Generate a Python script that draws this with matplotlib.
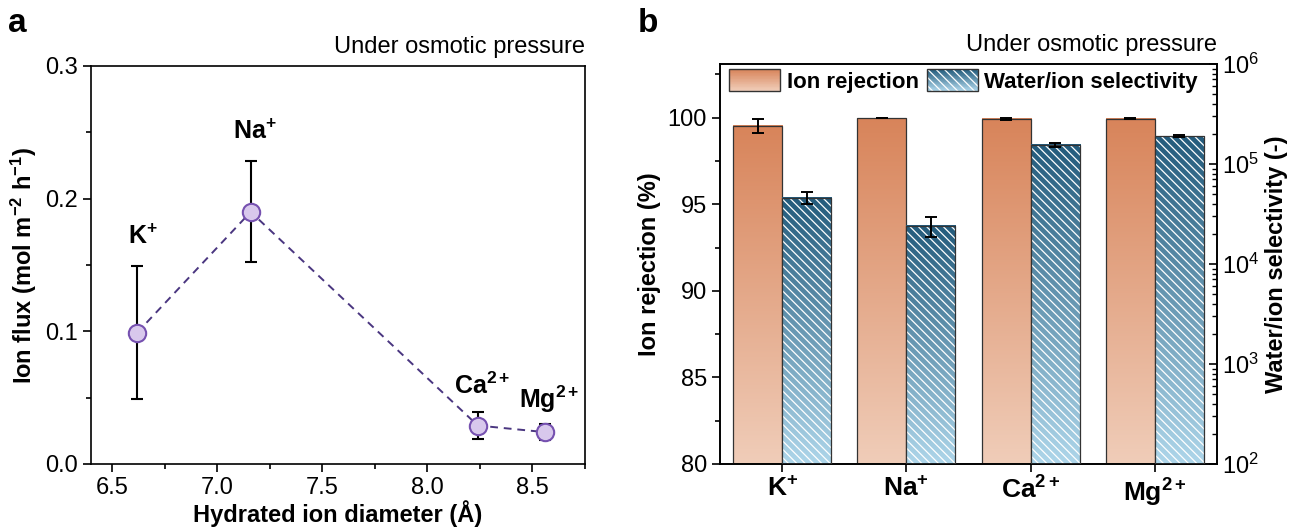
import numpy as np
import matplotlib
matplotlib.use("Agg")
import matplotlib.pyplot as plt
import matplotlib.ticker as mticker
from matplotlib.colors import LinearSegmentedColormap
from matplotlib.patches import Rectangle
from matplotlib.legend_handler import HandlerBase

plt.rcParams['font.family'] = ['Liberation Sans', 'DejaVu Sans']
plt.rcParams['mathtext.fontset'] = 'custom'
plt.rcParams['mathtext.rm'] = 'Liberation Sans'
plt.rcParams['mathtext.bf'] = 'Liberation Sans:bold'
plt.rcParams['mathtext.it'] = 'Liberation Sans:italic'
plt.rcParams['hatch.linewidth'] = 0.9
plt.rcParams['axes.linewidth'] = 1.2

# panel a data
ion_names = ['K', 'Na', 'Ca', 'Mg']
ion_charges = ['+', '+', '2+', '2+']
diameter = [6.62, 7.16, 8.24, 8.56]
flux = [0.099, 0.190, 0.029, 0.024]
flux_err = [0.050, 0.038, 0.010, 0.006]
label_pos = [(6.645, 0.171), (7.18, 0.250), (8.26, 0.059), (8.58, 0.049)]

# panel b data
rejection = [99.53, 99.98, 99.93, 99.95]
rejection_err = [0.40, 0.02, 0.05, 0.03]
selectivity = [4.6e4, 2.4e4, 1.55e5, 1.9e5]
selectivity_err = [6.5e3, 5.5e3, 6.0e3, 4.0e3]

orange_top, orange_bot = '#d8845a', '#f0cdb9'
blue_top, blue_bot = '#235b7c', '#aed6ea'
edge = '#333333'

FS = 17


def gradient_fill(ax, bar, top, bottom):
    x0, y0 = bar.get_x(), bar.get_y()
    x1, y1 = x0 + bar.get_width(), y0 + bar.get_height()
    to_axes = ax.transData + ax.transAxes.inverted()
    (ax0, ay0), (ax1, ay1) = to_axes.transform([(x0, y0), (x1, y1)])
    cmap = LinearSegmentedColormap.from_list('g', [bottom, top])
    grad = np.linspace(0, 1, 256).reshape(-1, 1)
    ax.imshow(grad, cmap=cmap, aspect='auto', origin='lower',
              extent=(ax0, ax1, ay0, ay1), transform=ax.transAxes,
              clip_path=bar, zorder=1, interpolation='bilinear')


class GradientHandler(HandlerBase):
    def __init__(self, top, bottom, hatch=None):
        super().__init__()
        self.top, self.bottom, self.hatch = top, bottom, hatch

    def create_artists(self, legend, orig_handle, xdescent, ydescent,
                       width, height, fontsize, trans):
        cmap = LinearSegmentedColormap.from_list('g', [self.bottom, self.top])
        n = 30
        arts = []
        for i in range(n):
            arts.append(Rectangle((-xdescent, -ydescent + height * i / n), width,
                                  height / n * 1.05, facecolor=cmap(i / (n - 1)),
                                  edgecolor='none', transform=trans))
        if self.hatch:
            arts.append(Rectangle((-xdescent, -ydescent), width, height,
                                  facecolor='none', edgecolor='white', lw=0,
                                  hatch=self.hatch, transform=trans))
        arts.append(Rectangle((-xdescent, -ydescent), width, height,
                              facecolor='none', edgecolor=edge, lw=1.0,
                              transform=trans))
        return arts


fig = plt.figure(figsize=(12.99, 5.29), dpi=100)
ax_a = fig.add_axes([0.0700, 0.1229, 0.3803, 0.7524])
ax_b = fig.add_axes([0.5543, 0.1229, 0.3826, 0.7561])

# ---- panel a ----
ax_a.errorbar(diameter, flux, yerr=flux_err, fmt='none', ecolor='black',
              elinewidth=1.5, capsize=4, capthick=1.5, zorder=2)
ax_a.plot(diameter, flux, ls=(0, (4, 3)), color='#4a3680', lw=1.4, zorder=3)
ax_a.plot(diameter, flux, ls='none', marker='o', ms=12.5, mfc='#d8c8ec',
          mec='#7651b0', mew=1.5, zorder=4)
for name, ch, (lx, ly) in zip(ion_names, ion_charges, label_pos):
    ax_a.text(lx, ly, r'$\mathbf{%s^{%s}}$' % (name, ch), ha='center',
              va='center', fontsize=18)
ax_a.set_xlim(6.4, 8.75)
ax_a.set_ylim(0, 0.3)
ax_a.xaxis.set_major_locator(mticker.MultipleLocator(0.5))
ax_a.xaxis.set_minor_locator(mticker.MultipleLocator(0.25))
ax_a.yaxis.set_major_locator(mticker.MultipleLocator(0.1))
ax_a.yaxis.set_minor_locator(mticker.MultipleLocator(0.05))
ax_a.yaxis.set_major_formatter(mticker.FormatStrFormatter('%.1f'))
ax_a.xaxis.set_major_formatter(mticker.FormatStrFormatter('%.1f'))
ax_a.tick_params(which='major', length=6, width=1.2, labelsize=FS, direction='out')
ax_a.tick_params(which='minor', length=3.5, width=1.2, direction='out')
ax_a.set_xlabel('Hydrated ion diameter (Å)', fontsize=FS, fontweight='bold', labelpad=1)
ax_a.set_ylabel(r'Ion flux (mol m$^{\mathbf{-2}}$ h$^{\mathbf{-1}}$)', fontsize=FS,
                fontweight='bold', labelpad=4)
ax_a.text(1.0, 1.02, 'Under osmotic pressure', transform=ax_a.transAxes,
          ha='right', va='bottom', fontsize=FS)

# ---- panel b ----
x = np.arange(len(ion_names))
w = 0.395
ax_b.set_xlim(-0.5, 3.5)
ax_b.set_ylim(80, 103.1)
ax_b.set_autoscale_on(False)
ax_r = ax_b.twinx()
ax_r.set_yscale('log')
ax_r.set_ylim(1e2, 1e6)
ax_r.set_xlim(-0.5, 3.5)
ax_r.set_autoscale_on(False)

rej_bars = ax_b.bar(x - w / 2, np.array(rejection) - 80, bottom=80, width=w,
                    facecolor='none', edgecolor=edge, lw=0.9, zorder=3)
for b in rej_bars:
    gradient_fill(ax_b, b, orange_top, orange_bot)
ax_b.errorbar(x - w / 2, rejection, yerr=rejection_err, fmt='none', ecolor='black',
              elinewidth=1.4, capsize=4, capthick=1.4, zorder=4)

sel_bars = ax_r.bar(x + w / 2, np.array(selectivity) - 1e2, bottom=1e2, width=w,
                    facecolor='none', edgecolor=edge, lw=0.9, zorder=3)
for b in sel_bars:
    gradient_fill(ax_r, b, blue_top, blue_bot)
ax_r.bar(x + w / 2, np.array(selectivity) - 1e2, bottom=1e2, width=w,
         facecolor='none', edgecolor='white', lw=0, hatch='\\\\\\\\', zorder=2)
ax_r.errorbar(x + w / 2, selectivity, yerr=selectivity_err, fmt='none', ecolor='black',
              elinewidth=1.4, capsize=4, capthick=1.4, zorder=4)

ax_b.set_xticks(x)
ax_b.set_xticklabels([r'$\mathbf{%s^{%s}}$' % (n, c) for n, c in zip(ion_names, ion_charges)])
ax_b.yaxis.set_major_locator(mticker.MultipleLocator(5))
ax_b.yaxis.set_minor_locator(mticker.MultipleLocator(2.5))
ax_b.tick_params(axis='y', which='major', length=6, width=1.2, labelsize=FS, direction='out')
ax_b.tick_params(axis='y', which='minor', length=3.5, width=1.2, direction='out')
ax_b.tick_params(axis='x', which='major', length=6, width=1.2, labelsize=19, direction='out', pad=3)
ax_b.set_ylabel('Ion rejection (%)', fontsize=FS, fontweight='bold', labelpad=5)

ax_r.yaxis.set_major_locator(mticker.LogLocator(base=10, numticks=10))
ax_r.yaxis.set_minor_locator(mticker.LogLocator(base=10, subs=np.arange(2, 10), numticks=50))
ax_r.yaxis.set_minor_formatter(mticker.NullFormatter())
ax_r.tick_params(which='major', length=6, width=1.2, labelsize=FS, direction='in')
ax_r.tick_params(which='minor', length=3.5, width=1.0, direction='in')
ax_r.set_ylabel('Water/ion selectivity (-)', fontsize=FS, fontweight='bold', labelpad=4)
ax_b.text(1.0, 1.02, 'Under osmotic pressure', transform=ax_b.transAxes,
          ha='right', va='bottom', fontsize=FS)

h_rej = Rectangle((0, 0), 1, 1)
h_sel = Rectangle((0, 0), 1, 1)
ax_r.legend([h_rej, h_sel], ['Ion rejection', 'Water/ion selectivity'],
            handler_map={h_rej: GradientHandler(orange_top, orange_bot),
                         h_sel: GradientHandler(blue_top, blue_bot, hatch='\\\\\\\\')},
            ncol=2, loc='upper left', bbox_to_anchor=(0.018, 0.9875), frameon=False,
            borderpad=0, borderaxespad=0, handlelength=2.3, handleheight=1.15,
            handletextpad=0.3, columnspacing=0.35,
            prop={'weight': 'bold', 'size': 16})

fig.text(0.006, 0.985, 'a', fontsize=24, fontweight='bold', va='top', ha='left')
fig.text(0.491, 0.985, 'b', fontsize=24, fontweight='bold', va='top', ha='left')

fig.savefig('out.png', dpi=100)
